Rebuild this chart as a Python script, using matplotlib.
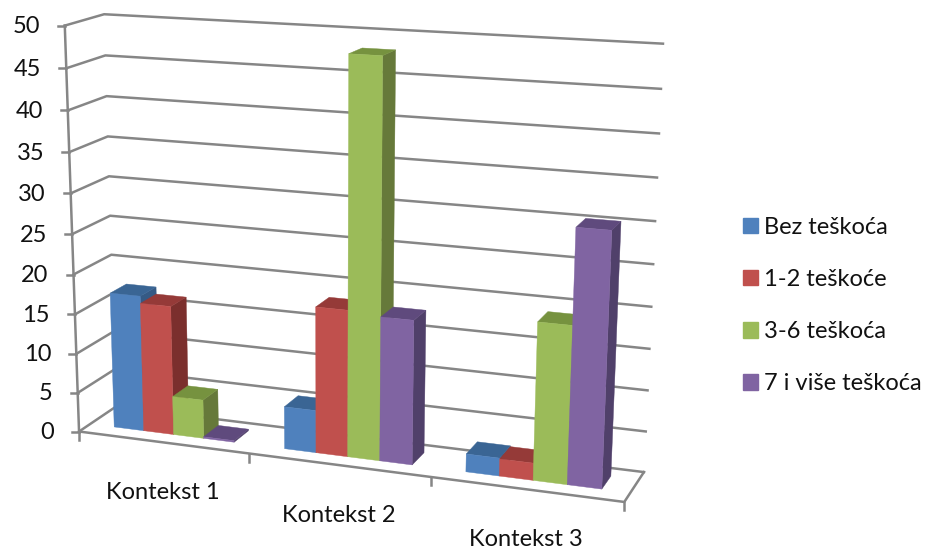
import numpy as np
import matplotlib
matplotlib.use("Agg")
import matplotlib.pyplot as plt
from matplotlib.patches import Polygon, Patch

categories = ["Kontekst 1", "Kontekst 2", "Kontekst 3"]
series_names = ["Bez teškoća", "1-2 teškoće", "3-6 teškoća", "7 i više teškoća"]
bez = [17.2, 5.3, 2.2]
jedan_dva = [16.3, 18.1, 2.1]
tri_sest = [4.9, 48.1, 19.0]
sedam = [0.2, 17.7, 30.3]
series_values = [bez, jedan_dva, tri_sest, sedam]
y_ticks = list(range(0, 55, 5))

face = ["#4F81BD", "#C0504D", "#9BBB59", "#8064A2"]
top = ["#3A6594", "#953A38", "#76923F", "#5F4A7D"]
side = ["#355A85", "#7B2F2D", "#66793A", "#50406A"]
GRID = "#868686"
FONT = "Lato"
FS = 17
LW = 1.8

# Camera calibration: model (category, value, depth) -> figure pixel
calib = [((0, 0, 0), (81, 431)), ((0, 0, 1), (113, 408)), ((3, 0, 0), (624, 503)),
         ((3, 0, 1), (644, 471)), ((0, 50, 0), (63, 26)), ((0, 50, 1), (105, 15)),
         ((3, 50, 1), (663, 43)), ((3, 30, 1), (655, 222)), ((0, 30, 1), (111, 175)),
         ((0, 30, 0), (70, 193)), ((1, 0, 0), (250, 453)), ((2, 0, 0), (431, 477))]
rows = []
for (X, Y, Z), (u, v) in calib:
    Y = Y / 50
    rows.append([X, Y, Z, 1, 0, 0, 0, 0, -u * X, -u * Y, -u * Z, -u])
    rows.append([0, 0, 0, 0, X, Y, Z, 1, -v * X, -v * Y, -v * Z, -v])
P = np.linalg.svd(np.array(rows, float))[2][-1].reshape(3, 4)


def project(x, y, z):
    h = P @ np.array([x, y / 50, z, 1.0])
    return h[0] / h[2], h[1] / h[2]


fig = plt.figure(figsize=(9.27, 5.48), dpi=100)
ax = fig.add_axes([0, 0, 1, 1])
ax.set_xlim(0, 927)
ax.set_ylim(548, 0)
ax.axis("off")


def line(pts, lw=LW):
    xy = np.array([project(*p) for p in pts])
    ax.plot(xy[:, 0], xy[:, 1], color=GRID, lw=lw, solid_capstyle="projecting", zorder=1)


# walls and floor
for v in y_ticks:
    line([(0, v, 0), (0, v, 1), (3, v, 1)])
    x0, y0 = project(0, v, 0)
    ax.plot([x0 - 7, x0], [y0, y0], color=GRID, lw=LW, zorder=1)
    ax.text(x0 - 25, y0 + 1, str(v), ha="right", va="center", fontsize=FS,
            family=FONT, color="#111111")
line([(0, 50, 0), (0, 0, 0), (3, 0, 0), (3, 0, 1)])
for i in range(len(categories) + 1):
    x0, y0 = project(i, 0, 0)
    ax.plot([x0, x0], [y0, y0 + 8], color=GRID, lw=LW, zorder=1)
for i, c in enumerate(categories):
    x0, y0 = project(i + 0.5, 0, 0)
    ax.text(x0, y0 + 50, c, ha="center", va="center", fontsize=FS, family=FONT, color="#111111")

# bars
GAP, ZF, ZB = 0.145, 0.3, 0.74
W = (1 - 2 * GAP) / 4


def quad(pts, color, zo):
    ax.add_patch(Polygon([project(*p) for p in pts], closed=True, fc=color, ec=color,
                         lw=0.3, zorder=zo))


zo = 2
for c in range(len(categories)):
    for s, vals in enumerate(series_values):
        v = vals[c]
        a = c + GAP + s * W
        b = a + W
        quad([(b, 0, ZF), (b, 0, ZB), (b, v, ZB), (b, v, ZF)], side[s], zo)
        quad([(a, v, ZF), (b, v, ZF), (b, v, ZB), (a, v, ZB)], top[s], zo)
        quad([(a, 0, ZF), (b, 0, ZF), (b, v, ZF), (a, v, ZF)], face[s], zo)
        zo += 1

handles = [Patch(fc=f, ec=f, label=n) for f, n in zip(face, series_names)]
leg = ax.legend(handles=handles, loc="center left", bbox_to_anchor=(731 / 927, 1 - 305.5 / 548),
                frameon=False, prop={"family": FONT, "size": FS}, handlelength=0.64,
                handleheight=0.64, handletextpad=0.26, labelspacing=1.32, borderpad=0,
                labelcolor="#111111")
fig.savefig("out.png", dpi=100)
